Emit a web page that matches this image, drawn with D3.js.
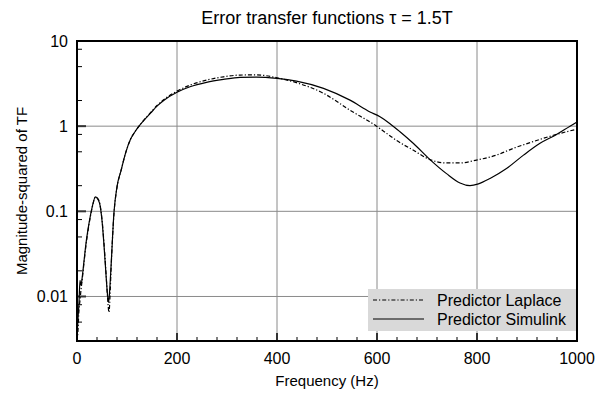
<!DOCTYPE html>
<html>
<head>
<meta charset="utf-8">
<script src="https://cdn.jsdelivr.net/npm/d3@7"></script>
<style>
  body { margin: 0; background: #fff; }
  text { font-family: "Liberation Sans", Arial, sans-serif; fill: #000; }
</style>
</head>
<body>
<div id="chart"></div>
<script>
// frequency (Hz) / magnitude-squared
const simFreq = [0, 2, 4, 6, 8, 10, 14, 18, 24, 30, 37, 42, 46, 50, 54, 58, 61, 63, 65, 68, 74, 80, 88, 97, 107, 116, 124, 135, 147, 160, 174, 200, 226, 259, 293, 326, 359, 400, 439, 493, 546, 586, 606, 626, 646, 673, 706, 739, 766, 786, 803, 826, 859, 893, 926, 959, 986, 1000]
const simVal = [0.0033, 0.0055, 0.0085, 0.0155, 0.0135, 0.016, 0.026, 0.042, 0.072, 0.11, 0.148, 0.138, 0.118, 0.078, 0.04, 0.018, 0.0105, 0.0085, 0.011, 0.022, 0.098, 0.195, 0.30, 0.48, 0.70, 0.86, 1.0, 1.19, 1.42, 1.72, 2.02, 2.5, 2.9, 3.27, 3.54, 3.74, 3.77, 3.64, 3.38, 2.78, 2.02, 1.47, 1.29, 1.07, 0.86, 0.625, 0.405, 0.277, 0.215, 0.2, 0.21, 0.243, 0.318, 0.457, 0.63, 0.8, 1.0, 1.12]

const lapFreq = [0, 2, 4, 6, 8, 10, 14, 18, 24, 30, 37, 42, 46, 50, 54, 58, 61, 64, 66, 68, 74, 80, 88, 97, 107, 116, 124, 135, 147, 160, 174, 200, 226, 259, 293, 326, 359, 400, 439, 493, 546, 599, 622, 639, 673, 706, 739, 766, 799, 839, 873, 906, 946, 979, 1000]
const lapVal = [0.003, 0.004, 0.007, 0.009, 0.012, 0.015, 0.025, 0.04, 0.07, 0.108, 0.147, 0.14, 0.12, 0.08, 0.042, 0.019, 0.01, 0.0065, 0.01, 0.02, 0.095, 0.19, 0.30, 0.48, 0.70, 0.86, 1.0, 1.2, 1.44, 1.75, 2.06, 2.58, 3.03, 3.47, 3.8, 3.98, 4.0, 3.7, 3.24, 2.43, 1.54, 1.0, 0.8, 0.68, 0.52, 0.405, 0.37, 0.37, 0.4, 0.457, 0.55, 0.64, 0.76, 0.86, 0.92]

const xTicks = [0, 200, 400, 600, 800, 1000]
const yTicks = [0.01, 0.1, 1, 10]
const yTickLabels = ["0.01", "0.1", "1", "10"]
const seriesNames = ["Predictor Laplace", "Predictor Simulink"]

const width = 599
const height = 396
const margin = {top: 41, right: 22, bottom: 55, left: 77}
const w = width - margin.left - margin.right
const h = height - margin.top - margin.bottom

const svg = d3.select("#chart").append("svg")
  .attr("width", width)
  .attr("height", height)

const g = svg.append("g")
  .attr("transform", "translate(" + margin.left + "," + margin.top + ")")

const x = d3.scaleLinear().domain([0, 1000]).range([0, w])
const y = d3.scaleLog().domain([0.003, 10]).range([h, 0])

// grid
g.append("g").selectAll("line")
  .data(xTicks.slice(1, -1))
  .enter().append("line")
  .attr("x1", d => x(d)).attr("x2", d => x(d))
  .attr("y1", 0).attr("y2", h)
  .attr("stroke", "#8a8a8a").attr("stroke-width", 1)

g.append("g").selectAll("line")
  .data(yTicks.slice(0, -1))
  .enter().append("line")
  .attr("x1", 0).attr("x2", w)
  .attr("y1", d => y(d)).attr("y2", d => y(d))
  .attr("stroke", "#8a8a8a").attr("stroke-width", 1)

// minor ticks, pointing inward
const xMinor = d3.range(0, 1001, 40).filter(d => d % 200 !== 0)
g.append("g").selectAll("line")
  .data(xMinor)
  .enter().append("line")
  .attr("x1", d => x(d)).attr("x2", d => x(d))
  .attr("y1", h).attr("y2", h - 4)
  .attr("stroke", "#000")

g.append("g").selectAll("line")
  .data(xTicks.slice(1, -1))
  .enter().append("line")
  .attr("x1", d => x(d)).attr("x2", d => x(d))
  .attr("y1", h).attr("y2", h - 8)
  .attr("stroke", "#333").attr("stroke-width", 2)

const yMinor = []
;[0.001, 0.01, 0.1, 1].forEach(dec => [2, 5, 8].forEach(m => {
  const v = dec * m
  if (v >= 0.003 && v <= 10) yMinor.push(v)
}))
g.append("g").selectAll("line")
  .data(yMinor)
  .enter().append("line")
  .attr("x1", 0).attr("x2", 5)
  .attr("y1", d => y(d)).attr("y2", d => y(d))
  .attr("stroke", "#000")

g.append("g").selectAll("line")
  .data(yTicks)
  .enter().append("line")
  .attr("x1", 0).attr("x2", 9)
  .attr("y1", d => y(d)).attr("y2", d => y(d))
  .attr("stroke", "#333").attr("stroke-width", 2)

// tick labels
g.append("g").selectAll("text")
  .data(xTicks)
  .enter().append("text")
  .attr("x", d => x(d))
  .attr("y", h + 23)
  .attr("text-anchor", "middle")
  .style("font-size", "16px")
  .text(d => d)

g.append("g").selectAll("text")
  .data(yTicks)
  .enter().append("text")
  .attr("x", -9)
  .attr("y", d => y(d))
  .attr("dy", "0.35em")
  .attr("text-anchor", "end")
  .style("font-size", "16px")
  .text((d, i) => yTickLabels[i])

// curves
svg.append("clipPath").attr("id", "clip")
  .append("rect").attr("width", w).attr("height", h)

const line = d3.line()
  .curve(d3.curveMonotoneX)
  .x(d => x(d[0]))
  .y(d => y(d[1]))

const plot = g.append("g").attr("clip-path", "url(#clip)")

plot.append("path")
  .datum(d3.zip(lapFreq, lapVal))
  .attr("fill", "none")
  .attr("stroke", "#000")
  .attr("stroke-width", 1.2)
  .attr("stroke-dasharray", "4,2,1.2,2")
  .attr("d", line)

plot.append("path")
  .datum(d3.zip(simFreq, simVal))
  .attr("fill", "none")
  .attr("stroke", "#000")
  .attr("stroke-width", 1.2)
  .attr("d", line)

// legend
const lg = g.append("g").attr("transform", "translate(" + (368 - margin.left) + "," + (289 - margin.top) + ")")
lg.append("rect")
  .attr("width", 209).attr("height", 42)
  .attr("fill", "#d9d9d9")
seriesNames.forEach((name, i) => {
  lg.append("line")
    .attr("x1", 5).attr("x2", 56)
    .attr("y1", 11 + i * 19).attr("y2", 11 + i * 19)
    .attr("stroke", "#000").attr("stroke-width", 1.2)
    .attr("stroke-dasharray", i === 0 ? "4,2,1.2,2" : null)
  lg.append("text")
    .attr("x", 69)
    .attr("y", 11 + i * 19)
    .attr("dy", "0.35em")
    .style("font-size", "16px")
    .text(name)
})

// frame
g.append("rect")
  .attr("width", w).attr("height", h)
  .attr("fill", "none")
  .attr("stroke", "#000")
  .attr("stroke-width", 2)

// titles
svg.append("text")
  .attr("x", margin.left + w / 2)
  .attr("y", 24)
  .attr("text-anchor", "middle")
  .style("font-size", "18px")
  .text("Error transfer functions \u03c4 = 1.5T")

svg.append("text")
  .attr("x", margin.left + w / 2)
  .attr("y", 386)
  .attr("text-anchor", "middle")
  .style("font-size", "15px")
  .text("Frequency (Hz)")

svg.append("text")
  .attr("transform", "rotate(-90)")
  .attr("x", -(margin.top + h / 2))
  .attr("y", 27)
  .attr("text-anchor", "middle")
  .style("font-size", "15px")
  .text("Magnitude-squared of TF")
</script>
</body>
</html>
